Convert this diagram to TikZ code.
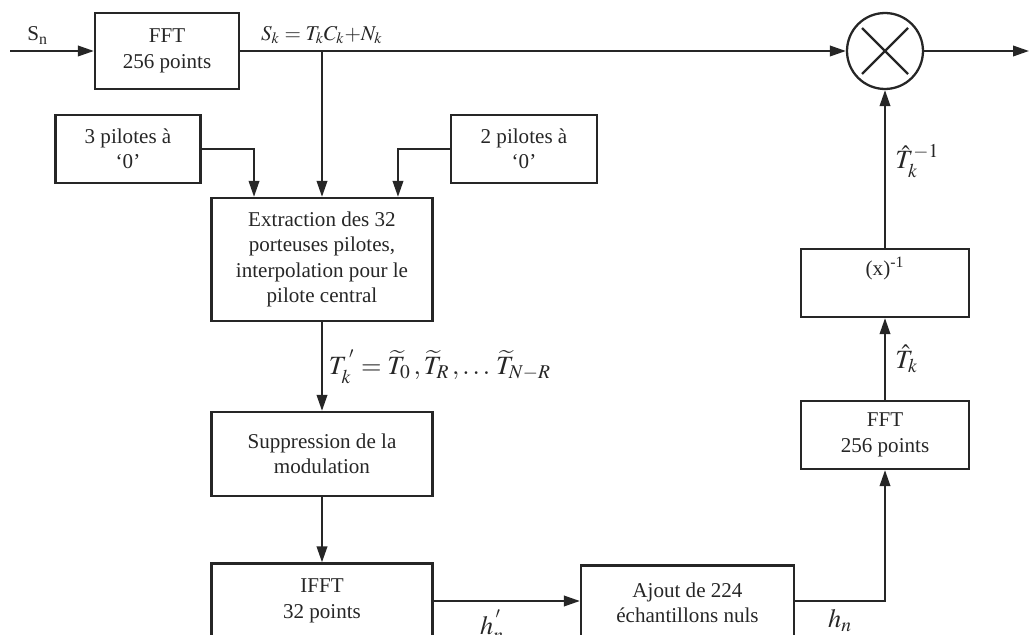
\documentclass[tikz,border=0pt]{standalone}
\usepackage{amsmath,amssymb}
\usepackage{mathptmx}
\usepackage{fontspec}
\setmainfont{Liberation Serif}
\usetikzlibrary{arrows.meta}

\begin{document}
\begin{tikzpicture}[x=0.02cm, y=-0.02cm, color=black!85, line width=1.2pt]

\tikzstyle{block}=[rectangle, draw, line width=1.3pt, align=center, inner sep=2pt, font=\fontsize{12}{14.5}\selectfont]
\tikzstyle{arrow}=[-{Triangle[length=3.2mm,width=2.1mm]}]
\tikzstyle{lbl}=[font=\fontsize{15}{18}\selectfont]

\useasboundingbox (0,0) rectangle (1029,635);

\node (fft1) [block, minimum width=2.88cm, minimum height=1.52cm] at (167,51) {FFT\\256 points};
\node (pil3) [block, minimum width=2.9cm, minimum height=1.36cm] at (128,149) {3 pilotes à\\‘0’};
\node (pil2) [block, minimum width=2.92cm, minimum height=1.36cm] at (524,149) {2 pilotes à\\‘0’};
\node (extr) [block, minimum width=4.42cm, minimum height=2.46cm] at (322,259.5) {Extraction des 32\\porteuses pilotes,\\interpolation pour le\\pilote central};
\node (supp) [block, minimum width=4.42cm, minimum height=1.68cm] at (322,454) {Suppression de la\\modulation};
\node (ifft) [block, minimum width=4.42cm, minimum height=1.5cm] at (322,601) {IFFT\\32 points};
\node (ajout) [block, minimum width=4.26cm, minimum height=1.5cm] at (687.5,603) {Ajout de 224\\échantillons nuls};
\node (fft2) [block, minimum width=3.36cm, minimum height=1.36cm] at (885,435) {FFT\\256 points};
\node (inv) [block, minimum width=3.36cm, minimum height=1.36cm] at (885,283) {(x)\textsuperscript{-1}\\\strut};
\node (mult) [circle, draw, line width=1.3pt, minimum size=1.52cm, inner sep=0pt] at (885,51) {};
\draw [line width=1.3pt] ([shift={(-23,-23)}]mult.center) -- ([shift={(23,23)}]mult.center);
\draw [line width=1.3pt] ([shift={(-23,23)}]mult.center) -- ([shift={(23,-23)}]mult.center);

\coordinate (in) at (10,51);
\coordinate (out) at (1029,51);

\draw [arrow] (in) -- node[above, pos=0.33, font=\fontsize{12}{14}\selectfont] {S\textsubscript{n}} (fft1);
\draw [arrow] (fft1) -- node[above, pos=0.135, font=\fontsize{12}{14}\selectfont] {$S_k = T_k C_k{+}N_k$} (mult);
\draw [arrow] (mult) -- (out);
\draw [arrow] (fft1.east -| extr.north) -- (extr.north);
\draw [arrow] (pil3.east) -| ([xshift=-1.36cm]extr.north);
\draw [arrow] (pil2.west) -| ([xshift=1.52cm]extr.north);
\draw [arrow] (extr) -- node[right, lbl] {$T_k^{\,'} = \widetilde{T}_0\,, \widetilde{T}_R\,, \ldots\, \widetilde{T}_{N-R}$} (supp);
\draw [arrow] (supp) -- (ifft);
\draw [arrow] (ifft.east) -- node[below=1pt, pos=0.4, lbl] {$h_n^{\,'}$} (ifft.east -| ajout.west);
\draw [arrow] (ajout.east |- ifft.east) -| node[below=1pt, pos=0.25, lbl] {$h_n$} (fft2);
\draw [arrow] (fft2) -- node[right=2pt, lbl] {$\hat{T}_k$} (inv);
\draw [arrow] (inv) -- node[right=2pt, pos=0.55, lbl] {$\hat{T}_k^{-1}$} (mult);

\end{tikzpicture}
\end{document}
